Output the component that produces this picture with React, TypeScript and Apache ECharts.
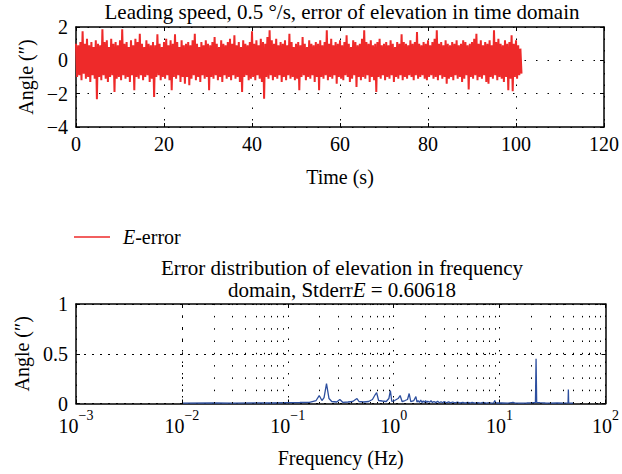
import React, { useEffect, useRef } from "react";
import * as echarts from "echarts";

// ---- Data ----
const timeStep = 0.5; // s between successive envelope samples
// upper peaks of E-error per 0.5 s, t = 0 .. 101 s
const upperPeaks = [
  1.0, 0.9, 1.1, 1.74, 1.0, 1.3, 0.9, 1.1, 0.8, 1.2,
  1.0, 0.9, 1.86, 1.1, 1.2, 0.8, 1.3, 1.0, 1.1, 0.9,
  1.2, 1.86, 1.0, 1.1, 0.8, 1.2, 0.9, 1.3, 1.1, 1.6,
  1.0, 0.8, 1.2, 1.0, 0.9, 1.1, 0.9, 1.56, 1.0, 0.8,
  1.1, 1.3, 0.9, 1.2, 1.0, 1.56, 1.1, 0.8, 1.2, 0.9,
  1.0, 1.1, 0.9, 1.2, 1.6, 1.0, 0.8, 1.1, 0.9, 1.2,
  1.0, 0.9, 1.1, 1.4, 1.0, 0.8, 1.2, 1.0, 0.9, 1.1,
  1.3, 1.0, 1.5, 0.9, 1.1, 0.8, 1.2, 1.0, 0.9, 1.1,
  1.74, 1.0, 1.2, 0.9, 1.3, 1.1, 1.0, 1.4, 1.8, 1.2,
  1.0, 1.3, 0.9, 1.1, 1.0, 1.2, 0.9, 1.6, 1.1, 0.8,
  1.0, 1.1, 0.9, 1.4, 1.0, 0.8, 1.2, 1.0, 0.9, 1.1,
  1.0, 1.2, 0.9, 1.1, 1.8, 1.0, 1.3, 0.9, 1.1, 1.0,
  1.2, 0.9, 1.1, 1.5, 1.0, 0.8, 1.2, 1.1, 0.9, 1.0,
  1.3, 1.8, 1.1, 1.0, 1.2, 0.9, 1.0, 1.1, 1.3, 0.9,
  1.0, 1.1, 0.9, 1.2, 1.0, 0.8, 1.1, 1.0, 1.56, 1.1,
  1.0, 0.9, 1.2, 1.0, 1.1, 1.7, 1.0, 0.9, 1.1, 1.0,
  1.2, 0.9, 1.1, 1.3, 1.8, 1.0, 1.1, 0.9, 1.2, 1.0,
  0.9, 1.1, 1.0, 1.2, 0.9, 1.0, 1.2, 1.1, 0.9, 1.0,
  1.1, 1.3, 1.6, 1.0, 1.2, 0.9, 1.1, 1.0, 1.2, 0.9,
  1.8, 1.1, 1.3, 1.0, 0.9, 1.2, 1.0, 1.1, 1.5, 1.0,
  1.2, 0.9, 0.7,
];
// lower peaks of E-error per 0.5 s (sampled a quarter step later)
const lowerPeaks = [
  -1.0, -0.9, -1.2, -0.8, -1.1, -1.0, -1.3, -0.9, -1.1, -2.33,
  -1.0, -1.2, -0.9, -1.1, -1.3, -1.0, -0.9, -1.9, -1.1, -1.0,
  -1.2, -0.9, -1.1, -1.0, -1.3, -0.9, -1.8, -1.0, -1.1, -0.9,
  -1.2, -1.0, -0.9, -1.3, -1.1, -2.2, -1.0, -0.9, -1.2, -1.0,
  -1.1, -0.9, -1.2, -1.8, -1.0, -1.1, -0.9, -1.3, -1.0, -1.4,
  -1.0, -1.5, -1.1, -0.9, -1.2, -1.0, -1.3, -0.9, -1.1, -1.0,
  -1.8, -1.0, -1.1, -0.9, -1.2, -1.0, -1.3, -0.9, -1.1, -1.0,
  -1.2, -0.9, -1.1, -1.0, -1.3, -1.9, -1.0, -0.9, -1.2, -1.1,
  -1.0, -1.2, -0.9, -1.1, -1.3, -2.3, -1.0, -1.1, -0.9, -1.2,
  -1.0, -1.1, -0.9, -1.3, -1.0, -1.2, -0.9, -1.1, -1.0, -1.2,
  -1.1, -1.8, -1.0, -0.9, -1.2, -1.0, -1.1, -0.9, -1.3, -1.0,
  -1.8, -1.0, -1.1, -0.9, -1.2, -1.0, -1.1, -0.9, -1.4, -1.0,
  -1.1, -1.2, -0.9, -1.0, -1.3, -1.1, -0.9, -1.6, -1.0, -1.2,
  -1.0, -1.1, -0.9, -1.3, -1.0, -1.2, -1.9, -1.0, -1.1, -0.9,
  -1.2, -1.0, -1.1, -0.9, -1.3, -1.0, -1.1, -0.9, -1.2, -1.0,
  -1.1, -0.9, -1.0, -1.2, -0.9, -1.1, -1.0, -0.9, -1.1, -1.2,
  -1.0, -0.9, -1.1, -1.0, -1.2, -0.9, -1.1, -1.0, -1.4, -1.1,
  -1.0, -1.2, -0.9, -1.1, -1.0, -1.3, -1.1, -0.9, -1.75, -1.0,
  -1.1, -0.9, -1.2, -1.0, -1.1, -0.9, -1.3, -1.4, -1.0, -1.1,
  -0.9, -1.2, -1.0, -1.1, -1.3, -1.0, -1.8, -1.1, -1.85, -1.0,
  -1.1, -0.9, -0.8,
];

// spectrum of elevation error
const freqHz = [
  0.01, 0.02, 0.03, 0.05, 0.07, 0.1, 0.13, 0.16, 0.185, 0.198,
  0.21, 0.22, 0.232, 0.245, 0.26, 0.29, 0.31, 0.33, 0.37, 0.41,
  0.45, 0.47, 0.52, 0.58, 0.63, 0.67, 0.69, 0.72, 0.78, 0.85,
  0.9, 0.93, 0.96, 1.02, 1.1, 1.15, 1.2, 1.28, 1.35, 1.4,
  1.45, 1.55, 1.62, 1.66, 1.7, 1.75, 1.8, 1.85, 1.9, 1.95,
  2.0, 2.05, 2.1, 2.18, 2.25, 2.32, 2.4, 2.5, 2.6, 2.7,
  2.8, 2.9, 3.0, 3.15, 3.3, 3.45, 3.6, 3.8, 4.0, 4.25,
  4.5, 4.75, 5.0, 5.25, 5.5, 5.85, 6.2, 6.6, 7.0, 7.5,
  8.0, 8.4, 8.8, 9.0, 9.2, 10.5, 12.0, 13.4, 14.0, 16.0,
  18.0, 20.0, 21.8, 22.1, 22.4, 24.0, 27.0, 30.0, 35.0, 40.0,
  44.3, 44.6, 44.9, 47.0, 50.0,
];
const spectrumAmp = [
  0.004, 0.005, 0.004, 0.006, 0.005, 0.008, 0.01, 0.012, 0.03, 0.08,
  0.03, 0.06, 0.2, 0.05, 0.02, 0.015, 0.04, 0.012, 0.015, 0.02,
  0.05, 0.02, 0.015, 0.02, 0.04, 0.09, 0.11, 0.03, 0.025, 0.02,
  0.05, 0.13, 0.02, 0.03, 0.05, 0.08, 0.02, 0.03, 0.04, 0.1,
  0.02, 0.03, 0.07, 0.015, 0.03, 0.012, 0.035, 0.01, 0.025, 0.012,
  0.03, 0.01, 0.022, 0.012, 0.028, 0.01, 0.02, 0.009, 0.022, 0.008,
  0.018, 0.008, 0.02, 0.007, 0.016, 0.006, 0.015, 0.006, 0.013, 0.005,
  0.012, 0.005, 0.01, 0.005, 0.011, 0.004, 0.009, 0.004, 0.01, 0.004,
  0.008, 0.004, 0.005, 0.03, 0.005, 0.006, 0.004, 0.012, 0.004, 0.004,
  0.005, 0.006, 0.01, 0.45, 0.01, 0.008, 0.005, 0.004, 0.005, 0.004,
  0.006, 0.14, 0.006, 0.004, 0.003,
];

// minor log grid positions (2..9 x 10^k)
const minorGridFreqs = [
  0.002, 0.003, 0.004, 0.005, 0.006, 0.007, 0.008, 0.009,
  0.02, 0.03, 0.04, 0.05, 0.06, 0.07, 0.08, 0.09,
  0.2, 0.3, 0.4, 0.5, 0.6, 0.7, 0.8, 0.9,
  2, 3, 4, 5, 6, 7, 8, 9,
  20, 30, 40, 50, 60, 70, 80, 90,
];

const FONT = "'Liberation Serif', 'DejaVu Serif', serif";
const FS = 20;
const TFS = 21;
const RED = "#ee2a2a";
const BLUE = "#2d4f9f";

const minus = (v: number | string) => String(v).replace("-", "\u2212");

export default function App() {
  const ref = useRef<HTMLDivElement>(null);
  useEffect(() => {
    if (!ref.current) return;
    const chart = echarts.init(ref.current, undefined, { renderer: "svg" });

    const timeData: [number, number][] = [];
    for (let i = 0; i < upperPeaks.length; i++) {
      timeData.push([i * timeStep, upperPeaks[i]]);
      timeData.push([i * timeStep + timeStep / 2, lowerPeaks[i]]);
    }
    const specData = freqHz.map((f, i) => [f, spectrumAmp[i]]);

    const tickLabel = { fontFamily: FONT, fontSize: FS, color: "#000" };
    const dotted = { color: "#000", width: 1, type: [1.5, 10] as any };
    const frameAxis = {
      axisLine: { onZero: false, lineStyle: { color: "#000", width: 1.5 } },
      axisTick: { inside: true, length: 4, lineStyle: { color: "#000" } },
    };

    chart.setOption({
      animation: false,
      grid: [
        { left: 76, right: 14, top: 27, height: 100, show: false },
        { left: 76, right: 14, top: 304, height: 99.5, show: false },
      ],
      legend: {
        data: ["E-error"],
        left: 69,
        top: 222,
        icon: "rect",
        itemWidth: 36,
        itemHeight: 1.5,
        selectedMode: false,
        formatter: "{i|E}-error",
        textStyle: {
          fontFamily: FONT,
          fontSize: FS,
          color: "#000",
          padding: [0, 0, 0, 8],
          rich: { i: { fontFamily: FONT, fontSize: FS, fontStyle: "italic", color: "#000" } },
        },
      },
      xAxis: [
        {
          gridIndex: 0, type: "value", min: 0, max: 120, interval: 20, ...frameAxis,
          axisLabel: { ...tickLabel, margin: 7 },
          splitLine: { show: true, lineStyle: dotted },
          name: "Time (s)", nameLocation: "middle", nameGap: 40,
          nameTextStyle: tickLabel,
        },
        {
          gridIndex: 1, type: "log", logBase: 10, min: 0.001, max: 100, ...frameAxis,
          axisLabel: {
            margin: 5,
            formatter: (v: number) => `{b|10}{e|${minus(Math.round(Math.log10(v)))}}`,
            rich: {
              b: { ...tickLabel, lineHeight: 27, verticalAlign: "bottom" },
              e: { fontFamily: FONT, fontSize: 14, color: "#000", lineHeight: 27, verticalAlign: "top" },
            },
          },
          splitLine: { show: true, lineStyle: dotted },
          name: "Frequency (Hz)", nameLocation: "middle", nameGap: 44,
          nameTextStyle: tickLabel,
        },
        {
          gridIndex: 0, type: "value", min: 0, max: 120, interval: 20, position: "top", ...frameAxis,
          axisLabel: { show: false }, splitLine: { show: false },
        },
        {
          gridIndex: 1, type: "log", logBase: 10, min: 0.001, max: 100, position: "top", ...frameAxis,
          axisLabel: { show: false }, splitLine: { show: false },
        },
      ],
      yAxis: [
        {
          gridIndex: 0, type: "value", min: -4, max: 2, interval: 2, ...frameAxis,
          axisLabel: { ...tickLabel, margin: 8, formatter: (v: number) => minus(v) },
          splitLine: { show: true, lineStyle: dotted },
          name: "Angle (\u2033)", nameLocation: "middle", nameGap: 34,
          nameTextStyle: tickLabel,
        },
        {
          gridIndex: 1, type: "value", min: 0, max: 1, interval: 0.5, ...frameAxis,
          axisLabel: { ...tickLabel, margin: 8 },
          splitLine: { show: true, lineStyle: { color: "#000", width: 1, type: [2, 6] as any } },
          name: "Angle (\u2033)", nameLocation: "middle", nameGap: 40,
          nameTextStyle: tickLabel,
        },
        {
          gridIndex: 0, type: "value", min: -4, max: 2, interval: 2, position: "right", ...frameAxis,
          axisLabel: { show: false }, splitLine: { show: false },
        },
        {
          gridIndex: 1, type: "value", min: 0, max: 1, interval: 0.5, position: "right", ...frameAxis,
          axisLabel: { show: false }, splitLine: { show: false },
        },
      ],
      series: [
        {
          name: "E-error", type: "line", xAxisIndex: 0, yAxisIndex: 0,
          data: timeData, symbol: "none", color: RED,
          lineStyle: { color: RED, width: 2 },
        },
        {
          name: "spectrum", type: "line", xAxisIndex: 1, yAxisIndex: 1,
          data: specData, symbol: "none", color: BLUE,
          lineStyle: { color: BLUE, width: 1.3 },
          markLine: {
            silent: true, symbol: ["none", "none"], label: { show: false },
            lineStyle: { color: "#000", width: 1, type: [1.5, 10.8] as any },
            data: minorGridFreqs.map((f) => ({ xAxis: f })),
          },
        },
      ],
      graphic: [
        {
          type: "text", x: 342, y: 12,
          style: {
            text: "Leading speed, 0.5 \u00B0/s, error of elevation in time domain",
            font: `${TFS}px ${FONT}`, fill: "#000", align: "center", verticalAlign: "middle",
          },
        },
        {
          type: "text", x: 342, y: 268,
          style: {
            text: "Error distribution of elevation in frequency",
            font: `${TFS}px ${FONT}`, fill: "#000", align: "center", verticalAlign: "middle",
          },
        },
        {
          type: "text", x: 342, y: 290,
          style: {
            text: "domain, Stderr{i|E} = 0.60618",
            font: `${TFS}px ${FONT}`, fill: "#000", align: "center", verticalAlign: "middle",
            rich: { i: { fontStyle: "italic", fontFamily: FONT, fontSize: TFS, fill: "#000" } },
          },
        },
      ],
    });
    return () => chart.dispose();
  }, []);
  return (
    <div
      ref={ref}
      style={{ position: "fixed", left: 0, top: 0, width: 622, height: 474, background: "#fff" }}
    />
  );
}
